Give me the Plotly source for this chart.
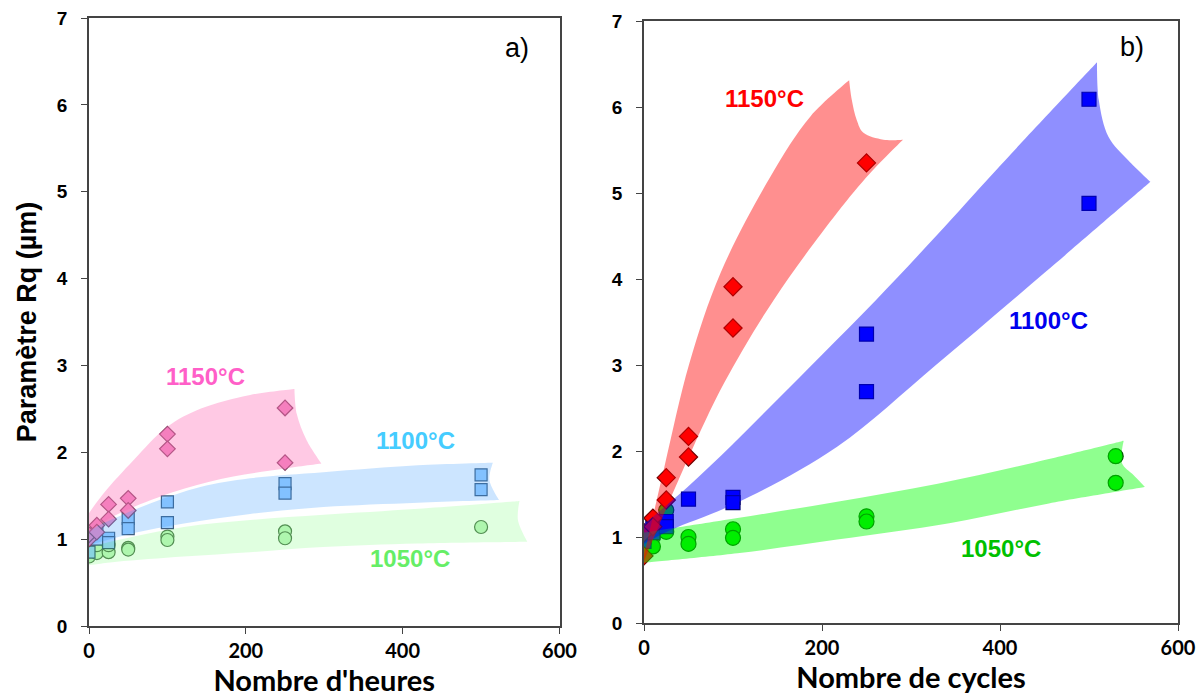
import plotly.graph_objects as go

# ---------------- data: panel a (hours) ----------------
a1150_x = [0, 0, 10, 10, 25, 25, 50, 50, 100, 100, 250, 250]
a1150_y = [1.00, 1.05, 1.16, 1.08, 1.40, 1.23, 1.47, 1.33, 2.21, 2.04, 2.51, 1.88]
a1100_x = [0, 0, 10, 10, 25, 25, 50, 50, 100, 100, 250, 250, 500, 500]
a1100_y = [0.85, 1.00, 1.07, 1.00, 1.01, 0.96, 1.24, 1.12, 1.43, 1.19, 1.64, 1.53, 1.74, 1.57]
a1050_x = [0, 0, 10, 10, 25, 25, 50, 50, 100, 100, 250, 250, 500]
a1050_y = [0.85, 0.80, 0.84, 0.93, 0.85, 0.93, 0.90, 0.88, 1.03, 0.99, 1.09, 1.01, 1.14]

# ---------------- data: panel b (cycles) ----------------
b1150_x = [0, 0, 10, 10, 25, 25, 50, 50, 100, 100, 250]
b1150_y = [0.78, 1.05, 1.22, 1.12, 1.69, 1.43, 2.17, 1.93, 3.91, 3.43, 5.35]
b1100_x = [0, 0, 10, 10, 25, 25, 50, 100, 100, 250, 250, 500, 500]
b1100_y = [1.00, 0.95, 1.12, 1.05, 1.18, 1.12, 1.44, 1.46, 1.40, 3.36, 2.69, 6.09, 4.88]
b1050_x = [0, 0, 10, 10, 25, 25, 50, 50, 100, 100, 250, 250, 530, 530]
b1050_y = [0.97, 0.82, 1.00, 0.89, 1.31, 1.06, 1.00, 0.92, 1.09, 0.99, 1.24, 1.18, 1.94, 1.63]

# ---------------- trend bands (upper edge, end curve, lower edge) ----------------
band_a1150_up_x = [0, 19, 57, 99.5, 142, 205.5, 262]
band_a1150_up_y = [1.30, 1.53, 1.91, 2.29, 2.50, 2.66, 2.73]
band_a1150_end_x = [265, 277.5]
band_a1150_end_y = [2.44, 2.14]
band_a1150_lo_x = [0, 15, 57, 121, 184, 248, 296.6]
band_a1150_lo_y = [1.07, 1.18, 1.37, 1.58, 1.72, 1.81, 1.87]

band_a1100_up_x = [0, 27.5, 78, 142, 205.5, 299, 419.5, 515]
band_a1100_up_y = [1.10, 1.22, 1.41, 1.60, 1.70, 1.77, 1.85, 1.88]
band_a1100_end_x = [510.6]
band_a1100_end_y = [1.68]
band_a1100_lo_x = [0, 57, 121, 205.5, 299, 419.5, 523]
band_a1100_lo_y = [0.93, 1.07, 1.18, 1.29, 1.37, 1.42, 1.45]

band_a1050_up_x = [0, 57, 121, 205.5, 299, 419.5, 549]
band_a1050_up_y = [0.91, 1.03, 1.14, 1.22, 1.28, 1.35, 1.44]
band_a1050_end_x = [547]
band_a1050_end_y = [1.22]
band_a1050_lo_x = [0, 35.5, 121, 205.5, 299, 419.5, 559]
band_a1050_lo_y = [0.70, 0.74, 0.80, 0.85, 0.91, 0.95, 0.97]

band_b1150_up_x = [0, 23, 51, 86, 142, 187, 230.5]
band_b1150_up_y = [0.78, 1.82, 3.02, 4.07, 5.19, 5.89, 6.31]
band_b1150_end_x = [233.5, 239, 246.6, 269]
band_b1150_end_y = [6.08, 5.85, 5.70, 5.62]
band_b1150_lo_x = [0, 49, 90, 146, 217, 254, 291]
band_b1150_lo_y = [0.72, 1.90, 2.79, 3.76, 4.77, 5.23, 5.62]

band_b1100_up_x = [0, 49, 100, 150, 200, 261, 330, 395, 509]
band_b1100_up_y = [1.15, 1.58, 2.08, 2.60, 3.12, 3.76, 4.52, 5.26, 6.52]
band_b1100_end_x = [511, 522, 544]
band_b1100_end_y = [6.08, 5.65, 5.38]
band_b1100_lo_x = [0, 30, 105, 217, 328, 451, 569]
band_b1100_lo_y = [0.92, 1.08, 1.40, 2.05, 3.00, 4.08, 5.13]

band_b1050_up_x = [0, 105, 217, 330, 440, 539]
band_b1050_up_y = [1.05, 1.22, 1.41, 1.62, 1.87, 2.12]
band_b1050_end_x = [537, 550]
band_b1050_end_y = [1.86, 1.72]
band_b1050_lo_x = [0, 105, 217, 343, 455, 563]
band_b1050_lo_y = [0.70, 0.81, 0.97, 1.16, 1.39, 1.58]

temp_labels = ["1150°C", "1100°C", "1050°C"]
x_ticks = [0, 200, 400, 600]

fig = go.Figure()


def add_points(x, y, xa, ya, symbol, size, fill, edge):
    fig.add_trace(go.Scatter(x=x, y=y, mode="markers", xaxis=xa, yaxis=ya,
                             showlegend=False, hoverinfo="x+y",
                             marker=dict(symbol=symbol, size=size, color=fill,
                                         line=dict(color=edge, width=1.2))))


def add_band(ux, uy, ex, ey, lx, ly, xa, ya, color):
    # corners are repeated so that the spline keeps them sharp
    lxr, lyr = list(lx)[::-1], list(ly)[::-1]
    px = [ux[0]] + list(ux) + [ux[-1]] + list(ex) + [lxr[0]] + lxr + [lxr[-1]]
    py = [uy[0]] + list(uy) + [uy[-1]] + list(ey) + [lyr[0]] + lyr + [lyr[-1]]
    fig.add_trace(go.Scatter(x=px, y=py, mode="lines", fill="toself",
                             fillcolor=color, xaxis=xa, yaxis=ya,
                             line=dict(width=0, shape="spline", smoothing=1,
                                       simplify=False),
                             showlegend=False, hoverinfo="skip"))


# panel a markers
add_points(a1050_x, a1050_y, "x", "y", "circle", 13, "#c6f5c6", "#5e7f5e")
add_points(a1100_x, a1100_y, "x", "y", "square", 12, "#9ccfff", "#3f5f80")
add_points(a1150_x, a1150_y, "x", "y", "diamond", 12, "#f08cc4", "#8a4a6c")
# panel b markers
add_points(b1050_x, b1050_y, "x2", "y2", "circle", 15, "#00e000", "#005a00")
add_points(b1100_x, b1100_y, "x2", "y2", "square", 14, "#0000ff", "#000070")
add_points(b1150_x, b1150_y, "x2", "y2", "diamond", 14, "#ff0000", "#700000")

# panel a bands
add_band(band_a1050_up_x, band_a1050_up_y, band_a1050_end_x, band_a1050_end_y,
         band_a1050_lo_x, band_a1050_lo_y, "x", "y", "rgba(0,255,0,0.12)")
add_band(band_a1100_up_x, band_a1100_up_y, band_a1100_end_x, band_a1100_end_y,
         band_a1100_lo_x, band_a1100_lo_y, "x", "y", "rgba(51,153,255,0.25)")
add_band(band_a1150_up_x, band_a1150_up_y, band_a1150_end_x, band_a1150_end_y,
         band_a1150_lo_x, band_a1150_lo_y, "x", "y", "rgba(255,105,180,0.36)")
# panel b bands
add_band(band_b1050_up_x, band_b1050_up_y, band_b1050_end_x, band_b1050_end_y,
         band_b1050_lo_x, band_b1050_lo_y, "x2", "y2", "rgba(0,255,0,0.44)")
add_band(band_b1100_up_x, band_b1100_up_y, band_b1100_end_x, band_b1100_end_y,
         band_b1100_lo_x, band_b1100_lo_y, "x2", "y2", "rgba(0,0,255,0.44)")
add_band(band_b1150_up_x, band_b1150_up_y, band_b1150_end_x, band_b1150_end_y,
         band_b1150_lo_x, band_b1150_lo_y, "x2", "y2", "rgba(255,0,0,0.44)")

axis_line = dict(showline=True, linecolor="#444444", linewidth=1.5, mirror=True,
                 ticks="outside", ticklen=6, tickcolor="#444444", tickwidth=1,
                 showgrid=False, zeroline=False, automargin=False,
                 ticklabeloverflow="allow")
xfont = dict(family="Lato, Liberation Sans", size=20, color="black", weight="bold")
yfont = dict(family="Liberation Sans, Arial", size=19, color="black", weight="bold")
xtitle_font = dict(family="Lato, Liberation Sans", size=29, color="black", weight="bold")

W, H = 1204, 695
OFF = 8  # page body margin of the browser
fig.update_layout(
    width=W, height=H,
    margin=dict(l=0, r=0, t=0, b=0),
    paper_bgcolor="white", plot_bgcolor="white",
    xaxis=dict(domain=[(89 - OFF) / W, (559.5 - OFF) / W], range=[0, 600],
               tickvals=x_ticks, tickfont=xfont, anchor="y",
               title=dict(text="Nombre d'heures", font=xtitle_font, standoff=2),
               **axis_line),
    yaxis=dict(domain=[1 - (626 - OFF) / H, 1 - (18 - OFF) / H], range=[0, 7], dtick=1,
               tickfont=yfont, anchor="x", ticklabelstandoff=10,
               title=dict(text="Paramètre Rq (µm)",
                          font=dict(family="Liberation Sans, Arial", size=27,
                                    color="black", weight="bold"), standoff=12),
               **axis_line),
    xaxis2=dict(domain=[(644 - OFF) / W, (1178 - OFF) / W], range=[0, 600],
                tickvals=x_ticks, tickfont=xfont, anchor="y2",
                title=dict(text="Nombre de cycles", font=xtitle_font, standoff=2),
                **axis_line),
    yaxis2=dict(domain=[1 - (623 - OFF) / H, 1 - (21 - OFF) / H], range=[0, 7], dtick=1,
                tickfont=yfont, anchor="x2", ticklabelstandoff=10,
                **axis_line),
)

lab_font = "Liberation Sans, Arial"
annos = [
    ("x", "y", 148, 2.87, temp_labels[0], "#ff5fc8"),
    ("x", "y", 416, 2.14, temp_labels[1], "#45ccff"),
    ("x", "y", 409, 0.78, temp_labels[2], "#66ee66"),
    ("x2", "y2", 135.5, 6.10, temp_labels[0], "#ff0000"),
    ("x2", "y2", 455, 3.52, temp_labels[1], "#0000ee"),
    ("x2", "y2", 401, 0.87, temp_labels[2], "#00c000"),
]
for xa, ya, x, y, t, c in annos:
    fig.add_annotation(x=x, y=y, xref=xa, yref=ya, text=t, showarrow=False,
                       font=dict(family=lab_font, size=24, color=c, weight="bold"))
fig.add_annotation(x=546, y=6.66, xref="x", yref="y", text="a)", showarrow=False,
                   font=dict(family=lab_font, size=27, color="black"))
fig.add_annotation(x=548, y=6.70, xref="x2", yref="y2", text="b)", showarrow=False,
                   font=dict(family=lab_font, size=27, color="black"))

fig.write_html("out.html")
